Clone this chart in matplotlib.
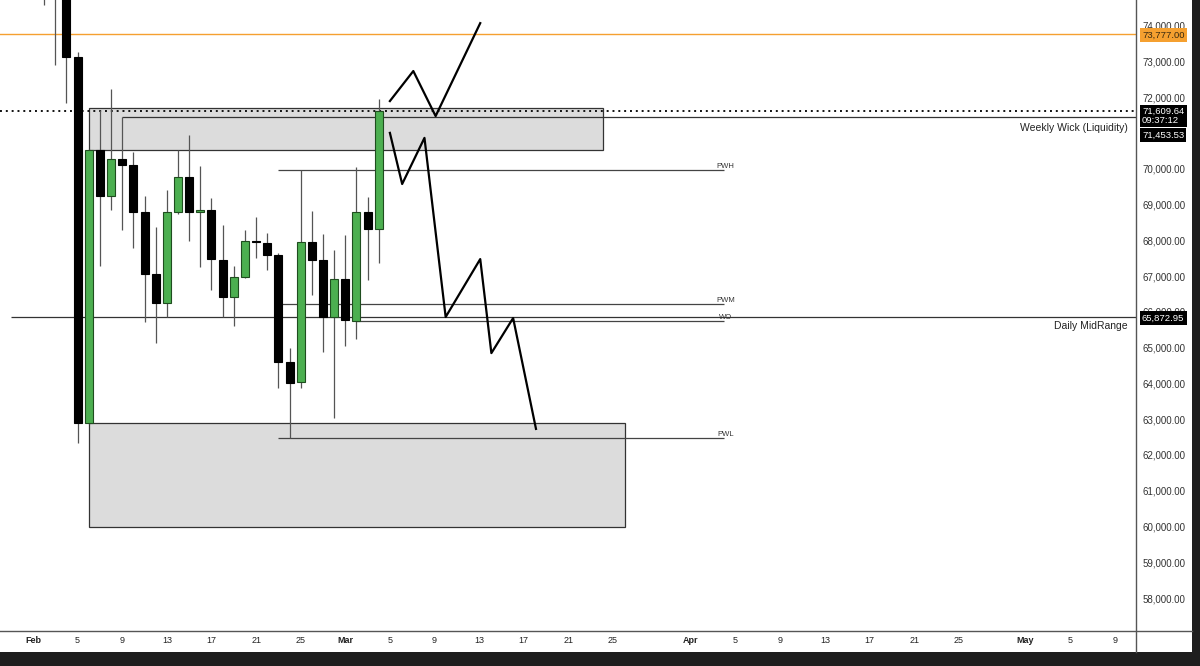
import matplotlib
matplotlib.use("Agg")
import matplotlib.pyplot as plt
from matplotlib.lines import Line2D
from matplotlib.patches import Rectangle

plt.rcParams["font.family"] = ["Liberation Sans", "DejaVu Sans"]

# daily candles, day index counted from Feb 1 = 0
days = list(range(1, 32))
opens = [75600, 75300, 74900, 73130, 62900, 70530, 69245, 70280, 70110, 68800,
         67060, 66250, 68800, 69780, 68800, 68850, 67460, 66420, 66980, 67990,
         67930, 67595, 64600, 64040, 67958, 67455, 65860, 66925, 65760, 68798,
         68322]
highs = [76200, 75900, 75400, 73270, 70560, 71650, 72240, 71453.53, 70480, 69245,
         68380, 69410, 70530, 70950, 70080, 69190, 68430, 67290, 68290, 68660,
         68210, 67650, 64990, 69972, 68830, 68180, 67735, 68150, 70056, 69217,
         71958]
lows = [74590, 72910, 71850, 62340, 62880, 67290, 68850, 68290, 67790, 65720,
        65130, 65860, 68740, 67990, 67260, 66620, 65860, 65610, 66950, 67510,
        67175, 63875, 62476, 63875, 66480, 64880, 63040, 65050, 65245, 66896,
        67371]
closes = [75300, 74900, 73130, 62900, 70530, 69245, 70280, 70110, 68800, 67060,
          66250, 68800, 69780, 68800, 68840, 67480, 66420, 66980, 67990, 67950,
          67595, 64600, 64015, 67958, 67455, 65860, 66925, 65777, 68798, 68322,
          71609.64]

# key levels
current_price = 71609.64
weekly_wick = 71453.53
orange_level = 73777.00
mid_range = 65872.95
pwh, pwm, wo, pwl = 69972, 66224, 65760, 62476

# zones: (start day, end day, low, high)
supply_zone = (5, 51.1, 70530, 71720)
demand_zone = (5, 53.1, 60000, 62896)

# hand drawn projections (day, price)
path_up_days = [32.0, 34.1, 36.1, 40.1]
path_up_prices = [71900, 72740, 71480, 74080]
path_down_days = [32.0, 33.1, 35.1, 37.0, 40.1, 41.1, 43.05, 45.1]
path_down_prices = [71010, 69580, 70870, 65860, 67480, 64850, 65830, 62730]

tick_days = [0, 4, 8, 12, 16, 20, 24, 28, 32, 36, 40, 44, 48, 52,
             59, 63, 67, 71, 75, 79, 83, 89, 93, 97]
tick_labels = ["Feb", "5", "9", "13", "17", "21", "25", "Mar", "5", "9", "13",
               "17", "21", "25", "Apr", "5", "9", "13", "17", "21", "25",
               "May", "5", "9"]
month_labels = {"Feb", "Mar", "Apr", "May"}

green = "#4caf50"
fig = plt.figure(figsize=(12, 6.66), dpi=100, facecolor="#1e1e1e")
fig.patches.append(Rectangle((0, 14 / 666), 1192 / 1200, 1, transform=fig.transFigure,
                             facecolor="white", edgecolor="none", zorder=-1))
ax = fig.add_axes([0, 36 / 666, 1136 / 1200, 630 / 666])
ax.set_xlim(-2.96, 98.9)
ax.set_ylim(57105, 74727)

# zones
for d0, d1, lo, hi in (supply_zone, demand_zone):
    ax.add_patch(Rectangle((d0, lo), d1 - d0, hi - lo, facecolor="#dcdcdc",
                           edgecolor="#333333", lw=0.9, zorder=1))

# levels
ax.axhline(orange_level, color="#f5a030", lw=1.0, zorder=2)
ax.axhline(current_price, color="#111111", lw=1.4, ls=(0, (1, 2)), zorder=2)
ax.hlines(weekly_wick, 8, 98.9, color="#333333", lw=0.9, zorder=2)
ax.hlines(mid_range, -1.97, 98.9, color="#333333", lw=0.9, zorder=2)
for lvl, start, name in ((pwh, 22, "PWH"), (pwm, 22, "PWM"), (wo, 29, "WO"), (pwl, 22, "PWL")):
    ax.hlines(lvl, start, 62, color="#444444", lw=0.9, zorder=2)
    ax.text(62.1, lvl, name, fontsize=5.5, color="#333333", ha="center", va="bottom", zorder=4)

ax.annotate("Weekly Wick (Liquidity)", xy=(1, weekly_wick), xycoords=("axes fraction", "data"),
            xytext=(-6, -4), textcoords="offset points", ha="right", va="top",
            fontsize=7.5, color="#222222")
ax.annotate("Daily MidRange", xy=(1, mid_range), xycoords=("axes fraction", "data"),
            xytext=(-6, -3.5), textcoords="offset points", ha="right", va="top",
            fontsize=7.5, color="#222222")

# candles
for d, o, h, l, c in zip(days, opens, highs, lows, closes):
    up = c >= o
    ax.vlines(d, l, h, color="#555555", lw=0.9, zorder=3)
    ax.bar(d, max(abs(c - o), 25), bottom=min(o, c), width=0.72,
           color=green if up else "black",
           edgecolor="#1f4d1f" if up else "black", lw=0.8, zorder=4)

# projections
ax.plot(path_up_days, path_up_prices, color="black", lw=1.6, zorder=5)
ax.plot(path_down_days, path_down_prices, color="black", lw=1.6, zorder=5)

# axes styling
for s in ax.spines.values():
    s.set_visible(False)
ax.yaxis.tick_right()
ax.set_yticks(range(58000, 74001, 1000))
ax.set_yticklabels([f"{v:,.2f}" for v in range(58000, 74001, 1000)])
ax.tick_params(axis="y", length=0, pad=4.5, labelsize=7, labelcolor="#333333")
ax.set_xticks(tick_days)
ax.set_xticklabels(tick_labels)
ax.tick_params(axis="x", length=0, pad=4, labelsize=6.5, labelcolor="#222222")
for t in ax.get_xticklabels():
    if t.get_text() in month_labels:
        t.set_fontweight("bold")

# price tags on the axis
tags = [
    (orange_level, "73,777.00", "#f5a030", "#3a2a10", -1),
    (current_price, "71,609.64\n09:37:12", "black", "white", 3),
    (weekly_wick, "71,453.53", "black", "white", -13),
    (mid_range, "65,872.95", "black", "white", -1),
]
for price, label, bg, fg, dy in tags:
    two_lines = "\n" in label
    ax.annotate(label, xy=(1, price), xycoords=("axes fraction", "data"),
                xytext=(4.3, dy), textcoords="offset points", ha="left",
                va="top" if two_lines else "center", fontsize=6.8, color=fg,
                linespacing=0.95, annotation_clip=False, zorder=10,
                bbox=dict(boxstyle="square,pad=0.25", facecolor=bg, edgecolor="none"))

# panel separators
fig.add_artist(Line2D([0, 1192 / 1200], [35 / 666, 35 / 666], transform=fig.transFigure,
                      color="#555555", lw=1))
fig.add_artist(Line2D([1136 / 1200, 1136 / 1200], [14 / 666, 1], transform=fig.transFigure,
                      color="#555555", lw=1))

fig.savefig("out.png", dpi=100, facecolor=fig.get_facecolor())
